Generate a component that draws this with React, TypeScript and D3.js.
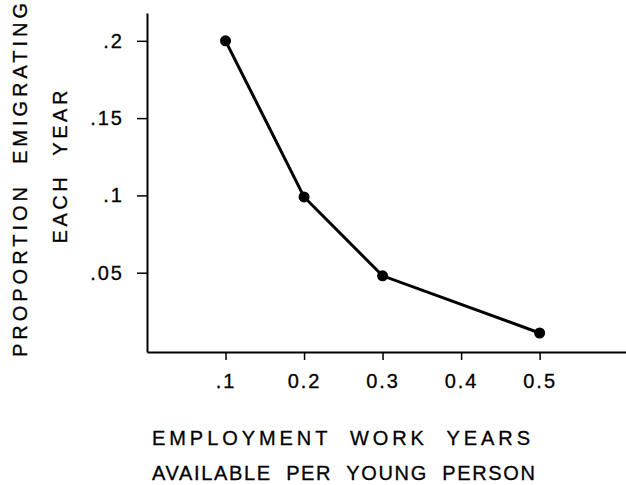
import React, { useEffect, useRef } from 'react';
import * as d3 from 'd3';

// work years available per young person (x) vs proportion emigrating (y)
const workYears = [0.1, 0.2, 0.3, 0.5];
const emigrating = [0.2, 0.099, 0.048, 0.011];

const xTicks = [0.1, 0.2, 0.3, 0.4, 0.5];
const xTickLabels = ['.1', '0.2', '0.3', '0.4', '0.5'];
const yTicks = [0.05, 0.1, 0.15, 0.2];
const yTickLabels = ['.05', '.1', '.15', '.2'];

const yTitle = ['PROPORTION  EMIGRATING', 'EACH  YEAR'];
const xTitle = ['EMPLOYMENT  WORK  YEARS', 'AVAILABLE  PER  YOUNG  PERSON'];

const App = () => {
  const svgRef = useRef<SVGSVGElement>(null);

  useEffect(() => {
    const width = 626;
    const height = 485;
    const font = "'Liberation Sans', Arial, sans-serif";

    const svg = d3.select(svgRef.current);
    svg.selectAll('*').remove();
    svg.attr('width', width).attr('height', height);

    const x = d3.scaleLinear().domain([0, 0.61]).range([147, 626]);
    const y = d3.scaleLinear().domain([-0.0013, 0.218]).range([352, 13]);

    const xAxis = d3.axisBottom(x)
      .tickValues(xTicks)
      .tickFormat((d, i) => xTickLabels[i])
      .tickSizeInner(8)
      .tickSizeOuter(0)
      .tickPadding(14);

    const yAxis = d3.axisLeft(y)
      .tickValues(yTicks)
      .tickFormat((d, i) => yTickLabels[i])
      .tickSizeInner(10)
      .tickSizeOuter(0)
      .tickPadding(13);

    const gx = svg.append('g')
      .attr('transform', `translate(0, ${y.range()[0]})`)
      .call(xAxis);

    const gy = svg.append('g')
      .attr('transform', `translate(${x.range()[0]}, 0)`)
      .call(yAxis);

    [gx, gy].forEach(g => {
      g.select('.domain').attr('stroke', '#000').attr('stroke-width', 2);
      g.selectAll('.tick line').attr('stroke', '#000').attr('stroke-width', 1.5);
      g.selectAll('.tick text')
        .attr('fill', '#000')
        .attr('stroke', '#000')
        .attr('stroke-width', 0.3)
        .attr('font-family', font)
        .attr('font-size', 20)
        .attr('letter-spacing', 2);
    });

    const line = d3.line<number>()
      .x((d, i) => x(workYears[i]))
      .y(d => y(d));

    svg.append('path')
      .datum(emigrating)
      .attr('d', line)
      .attr('fill', 'none')
      .attr('stroke', '#000')
      .attr('stroke-width', 3);

    svg.selectAll('circle')
      .data(emigrating)
      .enter()
      .append('circle')
      .attr('cx', (d, i) => x(workYears[i]))
      .attr('cy', d => y(d))
      .attr('r', 5.5)
      .attr('fill', '#000');

    // rotated y title, two lines
    const yTitleSpec = [
      { bx: 27, cy: 180, len: 354 },
      { bx: 67, cy: 167, len: 153 },
    ];
    yTitle.forEach((t, i) => {
      const s = yTitleSpec[i];
      svg.append('text')
        .attr('transform', `translate(${s.bx}, ${s.cy}) rotate(-90)`)
        .attr('text-anchor', 'middle')
        .attr('font-family', font)
        .attr('font-size', 20)
        .attr('stroke', '#000')
        .attr('stroke-width', 0.3)
        .attr('textLength', s.len)
        .attr('lengthAdjust', 'spacing')
        .attr('xml:space', 'preserve')
        .attr('fill', '#000')
        .text(t);
    });

    const xTitleSpec = [
      { x: 152, by: 445, len: 378 },
      { x: 152, by: 480, len: 383 },
    ];
    xTitle.forEach((t, i) => {
      const s = xTitleSpec[i];
      svg.append('text')
        .attr('x', s.x)
        .attr('y', s.by)
        .attr('font-family', font)
        .attr('font-size', 20)
        .attr('stroke', '#000')
        .attr('stroke-width', 0.3)
        .attr('textLength', s.len)
        .attr('lengthAdjust', 'spacing')
        .attr('xml:space', 'preserve')
        .attr('fill', '#000')
        .text(t);
    });
  }, []);

  return (
    <>
      <style>{'body { margin: 0; }'}</style>
      <svg ref={svgRef} style={{ display: 'block' }}></svg>
    </>
  );
};

export default App;
